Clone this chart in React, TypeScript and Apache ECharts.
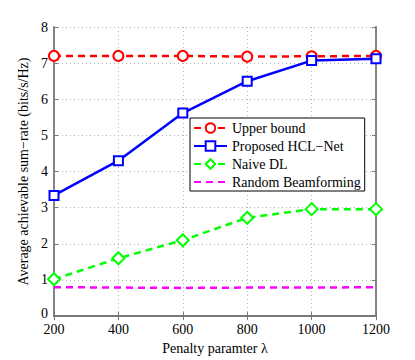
import React, { useEffect, useRef } from 'react';
import * as echarts from 'echarts';

const lambdas = [200, 400, 600, 800, 1000, 1200];
const upperBound = [7.2, 7.2, 7.2, 7.18, 7.19, 7.2];
const hclNet = [3.34, 4.3, 5.62, 6.5, 7.07, 7.12];
const naiveDL = [1.02, 1.6, 2.1, 2.72, 2.96, 2.96];
const randomBF = [0.8, 0.79, 0.78, 0.79, 0.79, 0.8];
const seriesNames = ['Upper bound', 'Proposed HCL\u2212Net', 'Naive DL', 'Random Beamforming'];
const xTitle = 'Penalty paramter \u03bb';
const yTitle = 'Average achievable sum\u2212rate (bits/s/Hz)';

const FONT = "'Liberation Serif', 'Times New Roman', serif";
const AXIS_COLOR = '#787878';

function zip(vals: number[]) {
  return lambdas.map((x, i) => [x, vals[i]]);
}

export default function App() {
  const ref = useRef<HTMLDivElement>(null);
  useEffect(() => {
    if (!ref.current) return;
    const chart = echarts.init(ref.current, undefined, { renderer: 'svg' });
    const tickCommon = { show: true, inside: true, length: 4, lineStyle: { color: AXIS_COLOR, width: 1 } };
    const axisLine = { show: true, lineStyle: { color: AXIS_COLOR, width: 1.8 } };
    chart.setOption({
      animation: false,
      backgroundColor: '#ffffff',
      textStyle: { fontFamily: FONT },
      grid: { left: 54, right: 39, top: 27, bottom: 41 },
      legend: {
        orient: 'vertical',
        left: 190,
        top: 118,
        itemWidth: 33,
        itemHeight: 12,
        itemGap: 4,
        itemTextGap: 6,
        padding: [3, 4, 2, 3],
        borderColor: '#000',
        borderWidth: 1,
        backgroundColor: '#fff',
        textStyle: { fontFamily: FONT, fontSize: 14, color: '#000' },
        data: [
          seriesNames[0],
          seriesNames[1],
          seriesNames[2],
          { name: seriesNames[3], itemStyle: { opacity: 0 } },
        ],
      },
      xAxis: [
        {
          type: 'value',
          min: 200,
          max: 1200,
          interval: 200,
          name: xTitle,
          nameLocation: 'middle',
          nameGap: 19,
          nameTextStyle: { fontFamily: FONT, fontSize: 14, color: '#000' },
          axisLine,
          axisTick: tickCommon,
          axisLabel: {
            fontFamily: FONT,
            fontSize: 14,
            color: '#000',
            margin: 6,
            formatter: (v: number) => String(v),
          },
          splitLine: { show: true, lineStyle: { color: '#b4b4b4', type: [1, 3], width: 1 } },
        },
        {
          type: 'value',
          position: 'top',
          min: 200,
          max: 1200,
          interval: 200,
          axisLine,
          axisTick: tickCommon,
          axisLabel: { show: false },
          splitLine: { show: false },
        },
      ],
      yAxis: [
        {
          type: 'value',
          min: 0,
          max: 8,
          interval: 1,
          name: yTitle,
          nameLocation: 'middle',
          nameGap: 15,
          nameTextStyle: { fontFamily: FONT, fontSize: 14, color: '#000' },
          axisLine,
          axisTick: tickCommon,
          axisLabel: {
            fontFamily: FONT,
            fontSize: 14,
            color: '#000',
            margin: 6,
            formatter: (v: number) => (v === 0 ? '{z|0}' : String(v)),
            rich: { z: { fontFamily: FONT, fontSize: 14, color: '#000', padding: [0, 0, 6, 0] } },
          },
          splitLine: { show: true, lineStyle: { color: '#b4b4b4', type: [1, 3], width: 1 } },
        },
        {
          type: 'value',
          position: 'right',
          min: 0,
          max: 8,
          interval: 1,
          axisLine,
          axisTick: tickCommon,
          axisLabel: { show: false },
          splitLine: { show: false },
        },
      ],
      series: [
        {
          name: seriesNames[0],
          type: 'line',
          data: zip(upperBound),
          symbol: 'emptyCircle',
          symbolSize: 10,
          itemStyle: { color: '#ff0000', borderWidth: 2.5 },
          lineStyle: { color: '#ff0000', width: 2.5, type: [7, 5] },
        },
        {
          name: seriesNames[1],
          type: 'line',
          data: zip(hclNet),
          symbol: 'emptyRect',
          symbolSize: 9,
          itemStyle: { color: '#0000ff', borderWidth: 2 },
          lineStyle: { color: '#0000ff', width: 2.5, type: 'solid' },
        },
        {
          name: seriesNames[2],
          type: 'line',
          data: zip(naiveDL),
          symbol: 'emptyDiamond',
          symbolSize: 12,
          itemStyle: { color: '#00ff00', borderWidth: 2.5 },
          lineStyle: { color: '#00ff00', width: 2.5, type: [7, 5] },
        },
        {
          name: seriesNames[3],
          type: 'line',
          data: zip(randomBF),
          symbol: 'none',
          itemStyle: { color: '#ff00ff' },
          lineStyle: { color: '#ff00ff', width: 2.5, type: [7, 5] },
        },
      ],
    });
    return () => chart.dispose();
  }, []);
  return (
    <div
      ref={ref}
      style={{ position: 'fixed', left: 0, top: 0, width: 415, height: 360, background: '#fff' }}
    />
  );
}
